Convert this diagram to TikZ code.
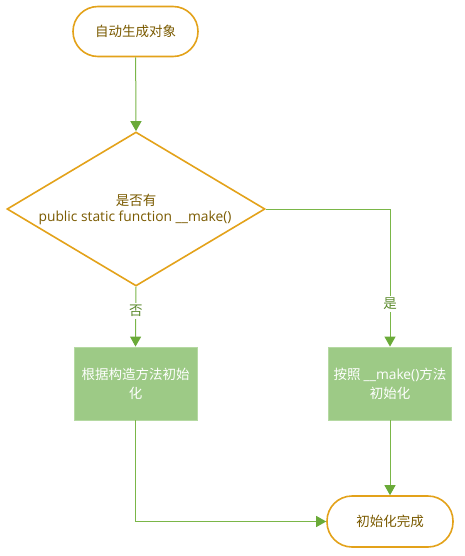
\documentclass[tikz,border=0pt]{standalone}
\usepackage{fontspec}
\setmainfont{Noto Sans CJK SC}
\newfontfamily\latinfont{Open Sans}
\usetikzlibrary{arrows.meta,shapes.geometric,positioning}
\definecolor{orng}{HTML}{E3A21A}
\definecolor{txtbrown}{HTML}{7A5A00}
\definecolor{boxgreen}{HTML}{9DCA86}
\definecolor{boxedge}{HTML}{B5D9A2}
\definecolor{linegreen}{HTML}{7AB648}
\definecolor{arrgreen}{HTML}{6AAA38}
\definecolor{lblgreen}{HTML}{5B8A2C}
\tikzset{
  term/.style={draw=orng,line width=1.6pt,rounded corners=25pt,minimum width=125pt,minimum height=50pt,inner sep=0pt,text=txtbrown,font=\fontsize{13.5}{19}\selectfont},
  decision/.style={draw=orng,line width=1.6pt,diamond,minimum width=258pt,minimum height=154pt,inner sep=0pt,aspect=1.675,text=txtbrown,align=center},
  proc/.style={draw=boxedge,line width=0.8pt,fill=boxgreen,minimum width=123pt,minimum height=73pt,inner sep=0pt,text=white,align=center,font=\fontsize{13.5}{19}\selectfont},
  conn/.style={draw=linegreen,line width=1pt,-{Triangle[length=10pt,width=11pt,color=arrgreen]}},
  plain/.style={draw=linegreen,line width=1pt},
  lbl/.style={fill=white,text=lblgreen,inner sep=2pt,font=\fontsize{13.5}{16}\selectfont}
}
\begin{document}
\begin{tikzpicture}[x=1pt,y=-1pt]
\useasboundingbox (0,0) rectangle (464,556);
\node[term] (start) at (135.5,31.5) {自动生成对象};
\node[decision] (dec) at (136,209) {};
\node[text=txtbrown,font=\fontsize{13.5}{16}\selectfont] (q1) at (136,200) {是否有};
\node[text=txtbrown,font=\latinfont\fontsize{13.8}{16}\selectfont] (q2) at (135,218) {public static function \_\_make()};
\node[proc] (left) at (135.5,383.5) {根据构造方法初始\\化};
\node[proc] (right) at (390,383.5) {按照 {\latinfont\fontsize{13.8}{19}\selectfont\_\_make()}方法\\初始化};
\node[term,minimum width=126pt,minimum height=51pt] (end) at (390,521.5) {初始化完成};
\coordinate (rc) at (390,209);
\coordinate (lc) at (135.5,521.5);
\draw[conn] (start) -- (dec.north);
\draw[conn] (dec.south) -- node[lbl,pos=0.4] (no) {否} (left.north);
\draw[plain] (dec.east) -- (rc);
\draw[conn] (rc) -- node[lbl,pos=0.69] (yes) {是} (right.north);
\draw[conn] (right) -- (end);
\draw[plain] (left.south) -- (lc);
\draw[conn] (lc) -- (end.west);
\end{tikzpicture}
\end{document}
